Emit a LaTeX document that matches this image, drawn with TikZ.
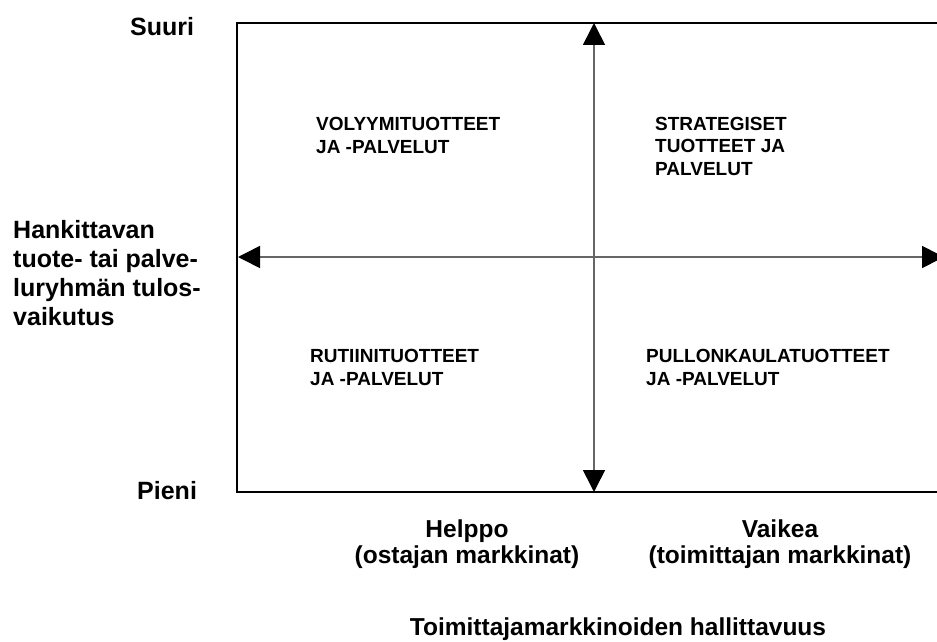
\documentclass[tikz,border=0pt]{standalone}
\usepackage{fontspec}
\setmainfont{Liberation Sans}
\usetikzlibrary{arrows.meta}
\begin{document}
\begin{tikzpicture}[x=1pt,y=-1pt,
  axislbl/.style={font=\fontsize{25}{29}\selectfont\bfseries, inner sep=0pt, align=left, anchor=base west},
  quad/.style={font=\fontsize{19}{22.5}\selectfont\bfseries, align=left, inner sep=0pt, anchor=base west},
  botlbl/.style={font=\fontsize{24.5}{26}\selectfont\bfseries, align=center, inner sep=0pt, anchor=base},
  axisarrow/.style={draw=black!60, line width=1.6pt,
    {Triangle[length=22pt,width=22pt,color=black]}-{Triangle[length=22pt,width=22pt,color=black]}},
  frame/.style={draw=black, line width=2pt}]
\useasboundingbox (0,0) rectangle (937,642);
% frame (right side falls outside the picture)
\draw[frame] (980,23) -- (237,23) -- (237,492) -- (980,492);
% axis end points
\coordinate (vtop) at (594,23);
\coordinate (vbot) at (594,492);
\coordinate (hleft) at (238,257);
\coordinate (hright) at (944,257);
\draw[axisarrow] (vbot) -- (vtop);
\draw[axisarrow] (hleft) -- (hright);
% quadrant labels (anchor = baseline of last line)
\node[quad] (vol) at (316,153) {VOLYYMITUOTTEET\\JA -PALVELUT};
\node[quad] (str) at (655,175) {STRATEGISET\\TUOTTEET JA\\PALVELUT};
\node[quad] (rut) at (310,385) {RUTIINITUOTTEET\\JA -PALVELUT};
\node[quad] (pul) at (646,385) {PULLONKAULATUOTTEET\\JA -PALVELUT};
% vertical axis labels
\node[axislbl] (suuri) at (130,36) {Suuri};
\node[axislbl] (pieni) at (137,499) {Pieni};
\node[axislbl] (yaxis) at (13,325) {Hankittavan\\tuote- tai palve-\\luryhmän tulos-\\vaikutus};
% horizontal axis labels
\node[botlbl] (helppo) at (467,563) {Helppo\\(ostajan markkinat)};
\node[botlbl] (vaikea) at (780,563) {Vaikea\\(toimittajan markkinat)};
\node[botlbl] (xaxis) at (618,635) {Toimittajamarkkinoiden hallittavuus};
\end{tikzpicture}
\end{document}
